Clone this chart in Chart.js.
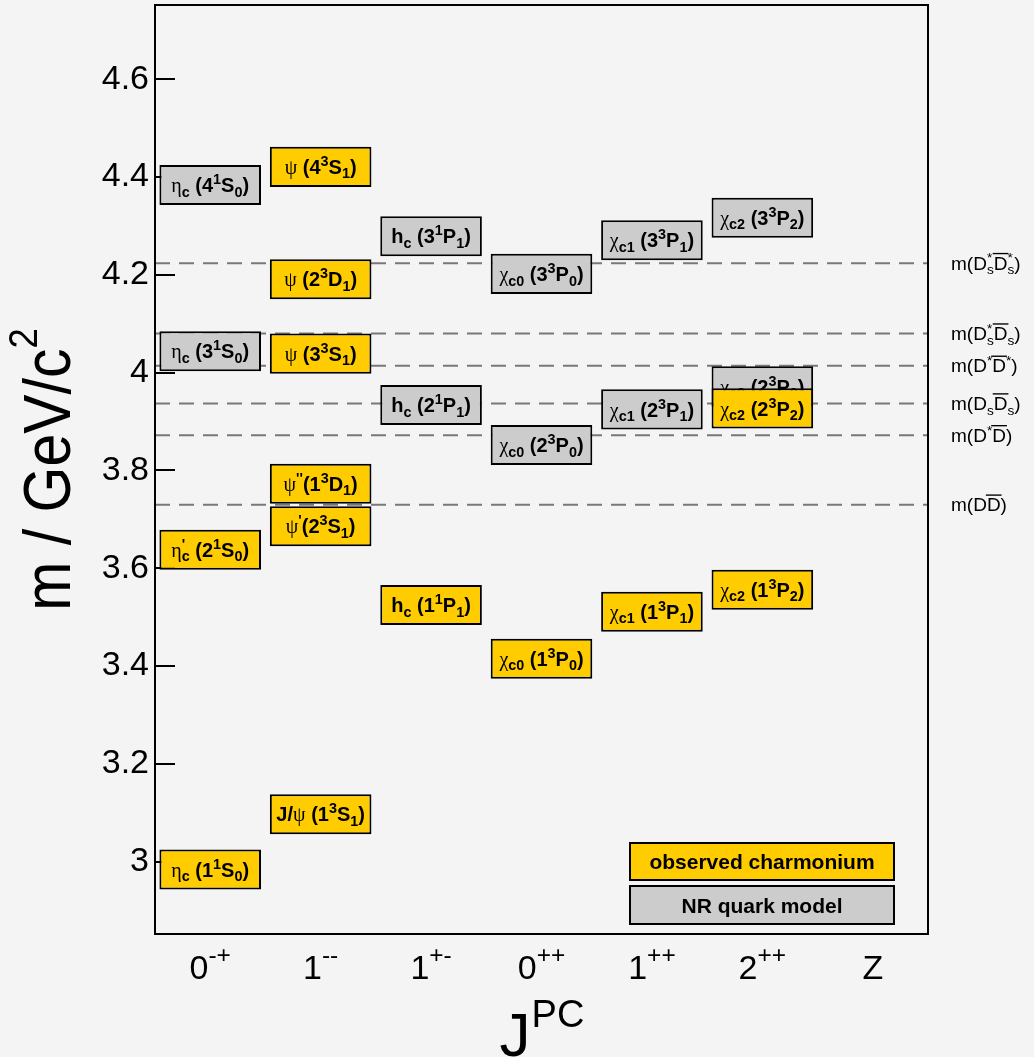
<!DOCTYPE html>
<html>
<head>
<meta charset="utf-8">
<script src="https://cdn.jsdelivr.net/npm/chart.js@4.4.0/dist/chart.umd.min.js"></script>
<style>
html,body{margin:0;padding:0;background:#f4f4f4;}
canvas{display:block;}
</style>
</head>
<body>
<canvas id="c" width="1034" height="1057"></canvas>
<script>
// ---------------- data ----------------
const categoryMain = ['0', '1', '1', '0', '1', '2', 'Z'];
const categorySup  = ['-+', '--', '+-', '++', '++', '++', ''];
const yTickValues  = [3.0, 3.2, 3.4, 3.6, 3.8, 4.0, 4.2, 4.4, 4.6];

// observed charmonium (gold boxes)
const observedCategory = [0, 0, 1, 1, 1, 1, 1, 1, 2, 3, 4, 5, 5];
const observedMass     = [2.984, 3.638, 3.097, 3.686, 3.773, 4.039, 4.191, 4.421, 3.525, 3.415, 3.511, 3.556, 3.927];
const observedLabel    = [
  'η_{c} (1^{1}S_{0})', 'η^{\'}_{c} (2^{1}S_{0})',
  'J/ψ (1^{3}S_{1})', 'ψ^{\'}(2^{3}S_{1})', 'ψ^{\'\'}(1^{3}D_{1})', 'ψ (3^{3}S_{1})', 'ψ (2^{3}D_{1})', 'ψ (4^{3}S_{1})',
  'h_{c} (1^{1}P_{1})', 'χ_{c0} (1^{3}P_{0})', 'χ_{c1} (1^{3}P_{1})', 'χ_{c2} (1^{3}P_{2})', 'χ_{c2} (2^{3}P_{2})'
];

// NR quark model predictions (grey boxes)
const modelCategory = [0, 0, 2, 2, 3, 3, 4, 4, 5, 5];
const modelMass     = [4.044, 4.384, 3.934, 4.279, 3.852, 4.202, 3.925, 4.271, 3.972, 4.317];
const modelLabel    = [
  'η_{c} (3^{1}S_{0})', 'η_{c} (4^{1}S_{0})',
  'h_{c} (2^{1}P_{1})', 'h_{c} (3^{1}P_{1})',
  'χ_{c0} (2^{3}P_{0})', 'χ_{c0} (3^{3}P_{0})',
  'χ_{c1} (2^{3}P_{1})', 'χ_{c1} (3^{3}P_{1})',
  'χ_{c2} (2^{3}P_{2})', 'χ_{c2} (3^{3}P_{2})'
];

// open-charm thresholds (dashed lines)
const thresholdMass  = [3.730, 3.872, 3.937, 4.014, 4.080, 4.224];
const thresholdLabel = [
  'm(D#bar{D})', 'm(D^{*}#bar{D})', 'm(D_{s}#bar{D}_{s})',
  'm(D^{*}#bar{D}^{*})', 'm(D^{*}_{s}#bar{D}_{s})', 'm(D^{*}_{s}#bar{D}^{*}_{s})'
];

const legendLabels = ['observed charmonium', 'NR quark model'];

// ---------------- style ----------------
const BOX_HALF = 0.041;
const GOLD = '#ffcc00', GREY = '#cccccc', INK = '#000000';
const FONT = '"Liberation Sans", Arial, Helvetica, sans-serif';
const GREEK_FONT = '"Liberation Serif", "Times New Roman", serif';

// ---------------- rich text helpers ----------------
const isGreek = ch => /[\u0370-\u03FF]/.test(ch);
function parseRich(s) {
  const out = []; let i = 0, buf = '';
  const flush = () => { if (buf) { out.push({t: buf, m: 'n', bar: false}); buf = ''; } };
  while (i < s.length) {
    const c = s[i];
    if ((c === '^' || c === '_') && s[i + 1] === '{') {
      flush(); const j = s.indexOf('}', i);
      out.push({t: s.slice(i + 2, j), m: c === '^' ? 'sup' : 'sub'}); i = j + 1;
    } else if (s.startsWith('#bar{', i)) {
      flush(); const j = s.indexOf('}', i);
      out.push({t: s.slice(i + 5, j), m: 'n', bar: true}); i = j + 1;
    } else { buf += c; i++; }
  }
  flush(); return out;
}
function splitRuns(t) {
  const runs = [];
  for (const ch of t) {
    const g = isGreek(ch);
    if (runs.length && runs[runs.length - 1].g === g) runs[runs.length - 1].t += ch;
    else runs.push({t: ch, g});
  }
  return runs;
}
function fontFor(g, size, bold) {
  return (g ? 'normal ' : (bold ? 'bold ' : 'normal ')) + size.toFixed(2) + 'px ' + (g ? GREEK_FONT : FONT);
}
function layoutRich(ctx, s, o) {
  const segs = parseRich(s); const items = []; let x = 0;
  const place = (t, size, dy, x0) => {
    let xx = x0;
    for (const r of splitRuns(t)) {
      const f = fontFor(r.g, size, o.bold); ctx.font = f;
      items.push({t: r.t, font: f, x: xx, dy});
      xx += ctx.measureText(r.t).width;
    }
    return xx - x0;
  };
  for (let k = 0; k < segs.length; k++) {
    const sg = segs[k];
    if (sg.m === 'n') {
      const x0 = x; x += place(sg.t, o.size, 0, x);
      if (sg.bar) items.push({bar: true, x0: x0 - 1, x1: x + 1});
    } else {
      const ss = o.size * o.scriptScale;
      const dy = sg.m === 'sup' ? -o.supRise * o.size : o.subDrop * o.size;
      let w = place(sg.t, ss, dy, x);
      const nx = segs[k + 1];
      if (nx && nx.m !== 'n' && nx.m !== sg.m) {
        const dy2 = nx.m === 'sup' ? -o.supRise * o.size : o.subDrop * o.size;
        w = Math.max(w, place(nx.t, ss, dy2, x)); k++;
      }
      x += w;
    }
  }
  return {items, width: x};
}
function drawRich(ctx, s, x, y, opts) {
  const o = Object.assign({size: 20, bold: false, align: 'left', scriptScale: 0.7, supRise: 0.4, subDrop: 0.22, color: INK}, opts);
  ctx.save();
  const L = layoutRich(ctx, s, o);
  const x0 = o.align === 'center' ? x - L.width / 2 : (o.align === 'right' ? x - L.width : x);
  ctx.fillStyle = o.color; ctx.strokeStyle = o.color;
  ctx.textBaseline = 'alphabetic'; ctx.textAlign = 'left';
  for (const it of L.items) {
    if (it.bar) {
      const yy = y - 0.716 * o.size - 2.5;
      ctx.lineWidth = Math.max(1, o.size / 14);
      ctx.beginPath(); ctx.moveTo(x0 + it.x0, yy); ctx.lineTo(x0 + it.x1, yy); ctx.stroke();
    } else {
      ctx.font = it.font; ctx.fillText(it.t, x0 + it.x, y + it.dy);
    }
  }
  ctx.restore();
  return L.width;
}

// ---------------- datasets ----------------
const observedData = observedMass.map((m, i) => ({x: observedCategory[i] + 0.5, y: [m - BOX_HALF, m + BOX_HALF]}));
const modelData    = modelMass.map((m, i) => ({x: modelCategory[i] + 0.5, y: [m - BOX_HALF, m + BOX_HALF]}));
const boxLabels = {'NR quark model': modelLabel, 'observed charmonium': observedLabel};

const thresholdSets = thresholdMass.map((m, i) => ({
  type: 'line', label: 'threshold ' + i,
  data: [{x: 0, y: m}, {x: categoryMain.length, y: m}],
  borderColor: '#787878', borderWidth: 2, borderDash: [15, 9],
  pointRadius: 0, fill: false, tension: 0, order: 3
}));

const barCommon = {
  type: 'bar', borderColor: INK, borderWidth: 2, borderSkipped: false,
  grouped: false, categoryPercentage: 1.0, barPercentage: 0.92
};

const charmPlugin = {
  id: 'charmPlugin',
  beforeDraw(chart) {
    const ctx = chart.ctx;
    ctx.save(); ctx.fillStyle = '#f4f4f4'; ctx.fillRect(0, 0, chart.width, chart.height); ctx.restore();
  },
  afterDatasetDraw(chart, args) {
    const ds = chart.data.datasets[args.index];
    const labels = boxLabels[ds.label];
    if (!labels) return;
    const ctx = chart.ctx;
    args.meta.data.forEach((bar, i) => {
      const p = bar.getProps(['x', 'y', 'base'], true);
      const cy = (p.y + p.base) / 2;
      drawRich(ctx, labels[i], p.x, cy + 7.2, {size: 20, bold: true, align: 'center', scriptScale: 0.72, supRise: 0.4, subDrop: 0.22});
    });
  },
  afterDraw(chart) {
    const ctx = chart.ctx, a = chart.chartArea;
    const xs = chart.scales.x, ys = chart.scales.y;
    // frame
    ctx.save(); ctx.strokeStyle = INK; ctx.lineWidth = 2;
    ctx.strokeRect(a.left, a.top, a.right - a.left, a.bottom - a.top);
    ctx.restore();
    // x category labels
    categoryMain.forEach((c, i) => {
      const s = categorySup[i] ? c + '^{' + categorySup[i] + '}' : c;
      drawRich(ctx, s, xs.getPixelForValue(i + 0.5), a.bottom + 45, {size: 34, align: 'center', scriptScale: 0.72, supRise: 0.47});
    });
    // threshold labels
    thresholdMass.forEach((m, i) => {
      drawRich(ctx, thresholdLabel[i], a.right + 23, ys.getPixelForValue(m) + 6.5, {size: 19, scriptScale: 0.72, supRise: 0.38, subDrop: 0.25});
    });
    // x title
    ctx.save(); ctx.fillStyle = INK; ctx.textBaseline = 'alphabetic'; ctx.textAlign = 'left';
    const cx = (a.left + a.right) / 2;
    ctx.font = 'normal 62px ' + FONT; const wJ = ctx.measureText('J').width;
    ctx.font = 'normal 38px ' + FONT; const wPC = ctx.measureText('PC').width;
    const x0 = cx - (wJ + wPC) / 2;
    ctx.font = 'normal 62px ' + FONT; ctx.fillText('J', x0, a.bottom + 122);
    ctx.font = 'normal 38px ' + FONT; ctx.fillText('PC', x0 + wJ + 1, a.bottom + 93);
    ctx.restore();
    // y title
    ctx.save();
    ctx.translate(70, (a.top + a.bottom) / 2);
    ctx.rotate(-Math.PI / 2);
    ctx.scale(1, 1.12);
    drawRich(ctx, 'm / GeV/c^{2}', 0, 0, {size: 59, align: 'center', scriptScale: 0.62, supRise: 0.5});
    ctx.restore();
    // legend
    const lx = a.right - 299, lw = 266;
    const rows = [{y: a.bottom - 92, h: 39, fill: GOLD}, {y: a.bottom - 49, h: 40, fill: GREY}];
    rows.forEach((r, i) => {
      ctx.save();
      ctx.fillStyle = r.fill; ctx.fillRect(lx, r.y, lw, r.h);
      ctx.strokeStyle = INK; ctx.lineWidth = 2; ctx.strokeRect(lx + 1, r.y + 1, lw - 2, r.h - 2);
      ctx.restore();
      drawRich(ctx, legendLabels[i], lx + lw / 2, r.y + r.h / 2 + 7.5, {size: 21, bold: true, align: 'center'});
    });
  }
};

new Chart(document.getElementById('c'), {
  type: 'bar',
  data: {
    datasets: [
      ...thresholdSets,
      Object.assign({}, barCommon, {label: legendLabels[1], data: modelData, backgroundColor: GREY, order: 2}),
      Object.assign({}, barCommon, {label: legendLabels[0], data: observedData, backgroundColor: GOLD, order: 1})
    ]
  },
  options: {
    responsive: false, animation: false, events: [],
    layout: {padding: {top: 5, right: 106, left: 0, bottom: 0}},
    plugins: {legend: {display: false}, tooltip: {enabled: false}, title: {display: false}},
    scales: {
      x: {
        type: 'linear', min: 0, max: categoryMain.length, offset: false,
        afterBuildTicks: s => { s.ticks = categoryMain.map((_, i) => ({value: i + 0.5})); },
        afterFit: s => { s.height = 123; s.paddingLeft = 0; s.paddingRight = 0; },
        grid: {display: false}, ticks: {display: false},
        border: {display: true, color: INK, width: 2}
      },
      y: {
        type: 'linear', min: 2.852, max: 4.752, beginAtZero: false,
        afterBuildTicks: s => { s.ticks = yTickValues.map(v => ({value: v})); },
        afterFit: s => { s.width = 155; s.paddingTop = 0; s.paddingBottom = 0; },
        grid: {drawOnChartArea: false, drawTicks: true, tickLength: -20, color: INK, lineWidth: 2},
        border: {display: true, color: INK, width: 2},
        ticks: {padding: 26, color: INK, font: {family: FONT, size: 34}, callback: v => String(v)}
      }
    }
  },
  plugins: [charmPlugin]
});
</script>
</body>
</html>
